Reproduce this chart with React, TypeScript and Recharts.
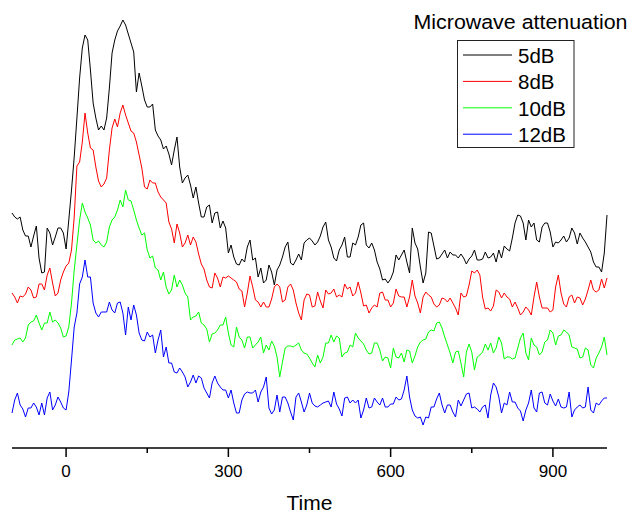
import { Line, LineChart, XAxis, YAxis } from "recharts";

// sampled every 5 time units from -100 to 1000 (221 points per trace)
const T_START = -100;
const T_STEP = 5;

// trace heights (arbitrary units, offset traces)
const DB5 = [
  235, 231, 229, 231, 218, 212, 212, 201, 212, 222, 190, 175, 176, 220, 215, 203, 211, 220, 220, 215,
  199, 228, 258, 291, 330, 370, 400, 413, 408, 378, 345, 330, 318, 322, 318, 330, 360, 395, 408, 417,
  422, 428, 423, 414, 405, 396, 356, 375, 362, 348, 341, 341, 344, 318, 312,
  308, 299, 302, 294, 283, 298, 311, 281, 265, 270, 273, 263, 250, 261, 245, 231, 231, 241, 243, 225,
  235, 236, 220, 227, 220, 195, 203, 191, 184, 183, 189, 186, 201, 208, 188, 190, 171, 180, 165, 168,
  183, 176, 163, 178, 183, 191, 201, 206, 185, 183, 188, 194, 188, 205,
  208, 210, 207, 203, 206, 212, 221, 226, 208, 201, 190, 187, 198, 203, 211, 191, 191, 205, 203, 211,
  223, 225, 203, 200, 205, 198, 186, 179, 168, 169, 165, 169, 176, 193, 188, 193, 198, 186, 175, 220,
  205, 199, 181, 165, 175, 216, 215, 202, 189, 190, 194, 198, 190, 196, 193,
  193, 190, 194, 190, 184, 189, 192, 198, 188, 188, 189, 196, 190, 191, 195, 186, 198, 190, 202, 199,
  197, 210, 225, 233, 232, 225, 208, 228, 221, 225, 208, 206, 221, 225, 225, 216, 201, 206, 205, 208,
  212, 206, 210, 220, 215, 204, 215, 210, 206, 201, 196, 186, 181, 181, 176, 195, 233,
];

const DB8 = [
  155, 151, 145, 152, 151, 154, 161, 158, 150, 151, 164, 164, 158, 173, 180, 165, 152, 155, 168, 176,
  182, 185, 198, 231, 282, 286, 306, 335, 315, 300, 298, 281, 267, 261, 264, 270, 298, 320, 329, 321,
  335, 343, 333, 325, 317, 315, 306, 293, 280, 261, 259, 268, 265, 265, 256,
  251, 248, 245, 226, 219, 205, 224, 215, 201, 205, 213, 203, 211, 206, 194, 184, 179, 168, 161, 160,
  175, 170, 161, 171, 170, 172, 170, 168, 166, 159, 157, 141, 155, 172, 161, 148, 146, 141, 146, 141,
  141, 149, 161, 164, 161, 146, 148, 161, 164, 158, 145, 135, 128, 148,
  154, 153, 141, 142, 156, 147, 140, 158, 154, 155, 159, 151, 153, 151, 164, 159, 161, 152, 155, 166,
  155, 142, 143, 135, 140, 143, 141, 155, 156, 148, 148, 141, 145, 159, 152, 151, 151, 141, 151, 168,
  152, 145, 135, 151, 156, 153, 151, 144, 141, 143, 150, 149, 146, 150, 145,
  140, 133, 155, 151, 152, 163, 177, 175, 178, 173, 151, 139, 140, 137, 142, 158, 156, 150, 155, 151,
  149, 141, 146, 140, 133, 136, 141, 138, 133, 151, 166, 151, 140, 140, 140, 136, 138, 161, 173, 155,
  144, 141, 151, 153, 145, 151, 150, 143, 149, 158, 168, 158, 156, 158, 169, 160, 170,
];

const DB10 = [
  103, 108, 109, 110, 106, 110, 123, 126, 127, 133, 125, 118, 125, 125, 136, 126, 128, 125, 120, 111,
  112, 121, 145, 178, 203, 228, 245, 236, 230, 223, 208, 205, 207, 203, 201, 206, 221, 228, 231, 238,
  248, 241, 258, 248, 247, 238, 228, 220, 213, 215, 198, 190, 192, 180, 178,
  168, 176, 161, 154, 158, 173, 161, 168, 163, 155, 151, 128, 131, 132, 136, 125, 123, 119, 106, 114,
  115, 118, 123, 123, 131, 115, 103, 101, 121, 111, 108, 100, 111, 111, 100, 103, 106, 111, 95, 103,
  98, 107, 102, 91, 71, 86, 100, 102, 102, 101, 103, 105, 98, 95,
  94, 90, 85, 81, 93, 85, 91, 105, 105, 113, 106, 112, 110, 91, 95, 96, 103, 101, 115, 110,
  107, 104, 98, 94, 95, 105, 105, 98, 87, 91, 90, 80, 100, 91, 90, 95, 86, 98, 97, 85,
  92, 101, 106, 108, 109, 116, 118, 117, 125, 126, 120, 111, 103, 95, 85,
  96, 97, 85, 71, 96, 104, 96, 78, 91, 93, 96, 104, 98, 105, 95, 100, 111, 105, 89, 91,
  91, 89, 90, 100, 110, 115, 95, 88, 110, 103, 101, 93, 96, 106, 108, 118, 115, 103, 112, 113,
  118, 116, 113, 101, 100, 99, 90, 91, 100, 98, 83, 80, 90, 95, 101, 111, 93,
];

const DB12 = [
  35, 48, 55, 43, 39, 31, 40, 40, 45, 41, 33, 45, 33, 50, 56, 38, 43, 51, 46, 40,
  38, 56, 88, 121, 135, 164, 171, 188, 171, 171, 145, 135, 131, 136, 136, 136, 146, 138, 135, 145,
  146, 135, 113, 141, 128, 143, 133, 115, 108, 107, 116, 111, 113, 95, 108,
  118, 91, 101, 85, 85, 76, 75, 80, 76, 71, 61, 66, 73, 65, 72, 70, 60, 55, 50, 65,
  72, 65, 61, 58, 58, 50, 58, 45, 35, 35, 48, 54, 56, 55, 55, 58, 46, 56, 61, 71,
  40, 34, 38, 53, 36, 51, 51, 45, 36, 28, 51, 55, 46, 36,
  43, 55, 45, 42, 41, 43, 45, 46, 47, 41, 56, 44, 39, 32, 50, 51, 45, 48, 45, 48,
  30, 38, 50, 40, 41, 50, 46, 43, 50, 41, 41, 44, 44, 51, 48, 49, 58, 72, 51, 38,
  32, 30, 31, 23, 31, 30, 41, 41, 49, 55, 43, 35, 43, 43, 36,
  31, 48, 42, 48, 54, 55, 40, 41, 39, 36, 41, 43, 30, 53, 65, 61, 51, 35, 45, 43,
  56, 46, 46, 40, 37, 27, 38, 45, 58, 40, 36, 55, 56, 45, 43, 54, 47, 42, 49, 41,
  40, 41, 56, 31, 38, 41, 43, 40, 41, 61, 38, 35, 45, 43, 47, 50, 50,
];

const TICKS = [0, 150, 300, 450, 600, 750, 900];
const LABELLED = [0, 300, 600, 900];

const SERIES = [
  { key: "db5", name: "5dB", color: "#000000", values: DB5 },
  { key: "db8", name: "8dB", color: "#ff0000", values: DB8 },
  { key: "db10", name: "10dB", color: "#00ff00", values: DB10 },
  { key: "db12", name: "12dB", color: "#0000ff", values: DB12 },
];

const FONT = "'Liberation Sans', Arial, sans-serif";

const data = DB5.map((_, i) => {
  const row: Record<string, number> = { t: T_START + T_STEP * i };
  SERIES.forEach((s) => {
    row[s.key] = s.values[i];
  });
  return row;
});

// major ticks are longer and carry a label, the in-between ones are bare
function TimeTick({ x, y, payload }: any) {
  const major = LABELLED.includes(payload.value);
  return (
    <g>
      <line x1={x} x2={x} y1={y} y2={y + (major ? 9 : 5)} stroke="#000" strokeWidth={1.5} />
      {major && (
        <text x={x} y={y + 29} textAnchor="middle" fontSize={17} fontFamily={FONT} fill="#000">
          {payload.value}
        </text>
      )}
    </g>
  );
}

function LegendBox() {
  return (
    <svg
      width={631}
      height={160}
      style={{ position: "absolute", left: 0, top: 0, pointerEvents: "none" }}
    >
      <text
        x={520.5}
        y={28.5}
        textAnchor="middle"
        fontSize={20.5}
        fontFamily={FONT}
        fill="#000"
        textLength={214}
        lengthAdjust="spacingAndGlyphs"
      >
        Microwave attenuation
      </text>
      <rect x={457.5} y={40.5} width={116.5} height={107} fill="#fff" stroke="#222" strokeWidth={1} />
      {SERIES.map((s, i) => (
        <g key={s.key}>
          <line x1={463} x2={512} y1={55 + i * 26.4} y2={55 + i * 26.4} stroke={s.color} strokeWidth={1} />
          <text x={518} y={63.3 + i * 26.1} fontSize={20.5} fontFamily={FONT} fill="#000">
            {s.name}
          </text>
        </g>
      ))}
    </svg>
  );
}

export default function App() {
  return (
    <div style={{ position: "absolute", left: 0, top: 0, width: 631, height: 513, background: "#fff" }}>
      <LineChart width={631} height={513} data={data} margin={{ top: 8, right: 24, bottom: 0, left: 12 }}>
        <XAxis
          dataKey="t"
          type="number"
          domain={[-100, 1000]}
          ticks={TICKS}
          interval={0}
          height={65}
          tickSize={0}
          tickMargin={0}
          tickLine={false}
          tick={<TimeTick />}
          axisLine={{ stroke: "#000", strokeWidth: 1.5 }}
          label={{
            value: "Time",
            position: "insideBottom",
            offset: 3,
            fontSize: 21,
            fontFamily: FONT,
            fill: "#000",
          }}
        />
        <YAxis hide domain={[0, 440]} allowDataOverflow />
        {SERIES.map((s) => (
          <Line
            key={s.key}
            dataKey={s.key}
            name={s.name}
            type="linear"
            stroke={s.color}
            strokeWidth={1}
            dot={false}
            activeDot={false}
            isAnimationActive={false}
          />
        ))}
      </LineChart>
      <LegendBox />
    </div>
  );
}
